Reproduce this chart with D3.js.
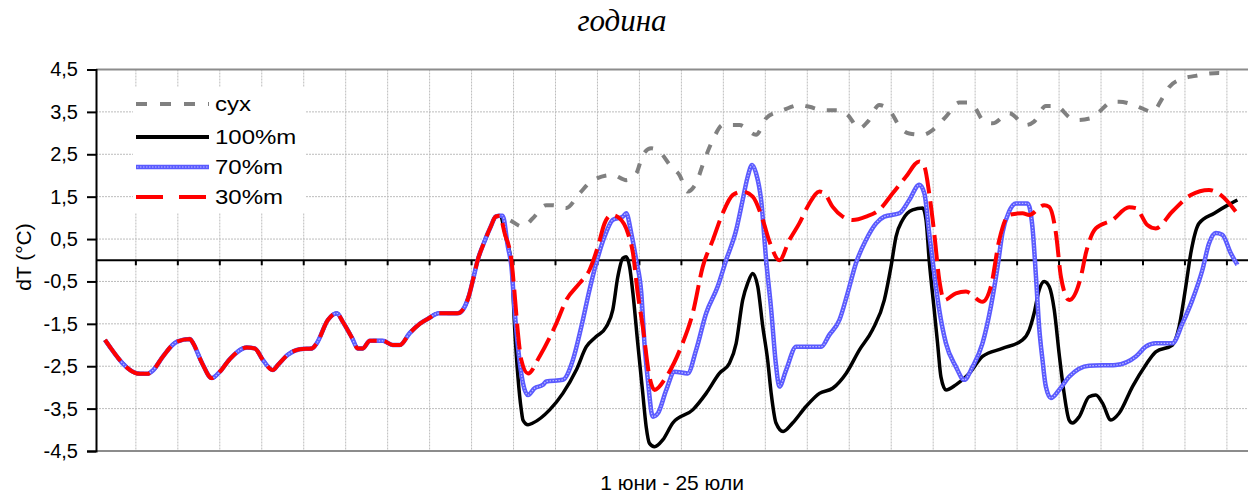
<!DOCTYPE html>
<html>
<head>
<meta charset="utf-8">
<script src="https://cdn.jsdelivr.net/npm/d3@7"></script>
<style>
  body { margin: 0; background: #fff; }
  svg { font-family: "Liberation Sans", Arial, sans-serif; }
</style>
</head>
<body>
<svg id="chart" width="1248" height="495"></svg>
<script>
// days since 1 June, dT in °C
// common start: all four curves lie on top of each other here
var commonPart = [[0.43,-1.88],[2.10,-2.68],[2.43,-2.68],[2.71,-2.60],[3.19,-2.27],[3.86,-1.92],[4.48,-1.86],
  [4.62,-1.95],[5.05,-2.42],[5.52,-2.78],[5.90,-2.63],[6.38,-2.33],[7.19,-2.06],[7.57,-2.08],[7.95,-2.35],
  [8.43,-2.59],[8.67,-2.47],[9.14,-2.23],[9.71,-2.10],[10.29,-2.08],[10.52,-1.96],[11.05,-1.41],[11.48,-1.25],
  [11.76,-1.45],[12.19,-1.82],[12.48,-2.08],[12.71,-2.08],[13.05,-1.90],[13.67,-1.90],[14.14,-2.00],[14.48,-2.00],
  [14.95,-1.72],[15.43,-1.50],[15.86,-1.37],[16.33,-1.25],[17.24,-1.25],[17.48,-1.17],[17.76,-0.86],[18.00,-0.39],
  [18.19,0.00],[18.48,0.40],[18.81,0.79],[19.05,1.03],[19.24,1.05]];

var dryTail = [[19.71,0.95],[20.35,0.79],[20.82,0.99],[21.46,1.30],[21.78,1.30],[22.41,1.23],[23.05,1.58],
  [23.68,1.89],[24.63,2.01],[25.27,1.89],[25.75,2.05],[26.06,2.48],[26.46,2.64],[26.86,2.56],[27.41,2.21],
  [27.81,2.01],[28.20,1.62],[28.60,1.82],[29.00,2.37],[29.40,2.84],[29.87,3.19],[30.67,3.19],[31.46,2.96],
  [31.94,3.35],[32.49,3.50],[32.73,3.54],[33.52,3.66],[34.00,3.62],[34.63,3.54],[35.43,3.54],[35.82,3.43],
  [36.38,3.11],[36.78,3.27],[37.33,3.66],[37.81,3.54],[38.37,3.11],[38.76,2.99],[39.40,2.96],[39.87,3.07],
  [40.51,3.39],[41.14,3.72],[41.62,3.72],[41.86,3.62],[42.33,3.27],[42.73,3.23],[43.52,3.47],[44.32,3.19],
  [44.71,3.27],[45.27,3.64],[45.75,3.64],[46.46,3.35],[46.78,3.31],[47.41,3.35],[47.81,3.50],[48.44,3.74],
  [48.76,3.74],[49.48,3.66],[49.87,3.58],[50.35,3.50],[50.82,3.82],[51.14,4.08],[51.70,4.27],[52.41,4.35],
  [52.81,4.39],[53.52,4.42],[53.76,4.37],[53.90,4.30]];

var m100Tail = [[19.56,0.48],[19.80,-0.07],[19.95,-1.57],[20.11,-2.75],[20.27,-3.53],[20.35,-3.77],[20.59,-3.88],
  [20.82,-3.84],[21.62,-3.53],[22.25,-3.14],[22.89,-2.59],[23.37,-2.04],[23.84,-1.80],[24.32,-1.57],[24.63,-1.17],
  [24.87,-0.39],[25.11,0.05],[25.27,0.08],[25.43,-0.15],[25.59,-0.78],[25.82,-1.96],[26.06,-3.14],[26.22,-3.92],
  [26.38,-4.32],[26.62,-4.40],[27.01,-4.24],[27.49,-3.84],[28.44,-3.53],[29.08,-3.14],[29.71,-2.67],[30.19,-2.43],
  [30.51,-1.96],[30.82,-0.94],[31.06,-0.54],[31.30,-0.31],[31.54,-0.62],[31.78,-1.57],[32.01,-2.35],[32.18,-3.14],
  [32.41,-3.84],[32.75,-4.04],[33.20,-3.84],[33.84,-3.45],[34.48,-3.14],[35.11,-3.02],[35.75,-2.67],[36.38,-2.12],
  [37.01,-1.64],[37.57,-0.94],[37.89,-0.15],[38.13,0.56],[38.44,0.95],[38.92,1.19],[39.40,1.23],[39.56,0.95],
  [39.71,0.00],[39.95,-1.17],[40.11,-1.96],[40.27,-2.75],[40.51,-3.06],[40.98,-2.94],[41.62,-2.67],[42.25,-2.27],
  [43.20,-2.08],[44.16,-1.88],[44.48,-1.64],[44.71,-1.25],[44.95,-0.70],[45.19,-0.50],[45.43,-0.62],[45.67,-1.17],
  [45.90,-2.19],[46.14,-3.14],[46.38,-3.77],[46.54,-3.84],[46.86,-3.69],[47.33,-3.22],[47.65,-3.18],[47.97,-3.37],
  [48.37,-3.77],[48.76,-3.61],[49.40,-2.98],[50.03,-2.47],[50.51,-2.16],[51.30,-2.00],[51.62,-1.57],[51.94,-0.62],
  [52.18,0.17],[52.57,0.87],[53.30,1.11],[53.94,1.30],[54.40,1.42]];

var m70Tail = [[19.38,1.05],[19.63,0.32],[19.80,-0.15],[19.95,-1.17],[20.11,-2.04],[20.35,-2.90],[20.59,-3.18],
  [20.90,-3.02],[21.30,-2.94],[21.46,-2.86],[22.25,-2.82],[22.73,-2.35],[23.13,-1.57],[23.52,-0.70],[23.84,-0.07],
  [24.24,0.56],[24.63,0.95],[25.11,1.03],[25.27,1.11],[25.51,0.64],[25.75,0.00],[25.99,-0.78],[26.14,-1.96],
  [26.30,-2.82],[26.54,-3.69],[26.78,-3.61],[27.18,-3.06],[27.57,-2.63],[28.20,-2.67],[28.60,-2.12],[29.08,-1.25],
  [29.63,-0.62],[30.03,0.00],[30.51,0.71],[30.82,1.42],[31.06,1.97],[31.27,2.25],[31.46,2.05],[31.70,1.42],
  [31.94,0.00],[32.18,-1.17],[32.41,-2.48],[32.57,-2.98],[32.89,-2.59],[33.37,-2.04],[33.84,-2.04],[34.56,-2.04],
  [34.95,-1.76],[35.43,-1.41],[35.82,-0.78],[36.22,-0.07],[36.70,0.48],[37.18,0.87],[37.57,1.03],[38.29,1.11],
  [38.76,1.42],[39.24,1.78],[39.48,1.58],[39.71,0.64],[39.95,-0.31],[40.19,-1.17],[40.51,-1.96],[40.98,-2.51],
  [41.38,-2.82],[41.78,-2.51],[42.25,-1.96],[42.65,-1.09],[42.97,-0.15],[43.20,0.64],[43.52,1.15],[43.84,1.34],
  [44.40,1.34],[44.63,0.79],[44.80,-0.39],[44.95,-1.57],[45.11,-2.35],[45.27,-2.98],[45.51,-3.25],[45.90,-3.06],
  [46.38,-2.75],[47.33,-2.49],[48.60,-2.47],[49.56,-2.27],[50.03,-2.04],[50.51,-1.96],[51.30,-1.96],[51.78,-1.49],
  [52.25,-0.94],[52.73,-0.23],[53.05,0.40],[53.37,0.64],[53.68,0.60],[54.08,0.17],[54.40,-0.11]];

var m30Tail = [[19.48,0.63],[19.80,0.00],[19.95,-0.78],[20.11,-1.72],[20.27,-2.35],[20.59,-2.67],[21.14,-2.27],
  [21.94,-1.49],[22.41,-0.94],[23.05,-0.54],[23.52,-0.23],[23.92,0.32],[24.24,0.87],[24.56,1.07],[24.95,0.99],
  [25.35,0.64],[25.59,0.17],[25.82,-0.78],[26.06,-1.57],[26.38,-2.75],[26.62,-3.06],[27.18,-2.75],[27.89,-2.04],
  [28.44,-1.25],[28.92,-0.15],[29.40,0.48],[29.87,1.11],[30.35,1.54],[30.83,1.62],[31.30,1.50],[31.78,0.95],
  [32.10,0.44],[32.57,0.00],[33.05,0.48],[33.52,0.87],[34.00,1.34],[34.48,1.62],[34.71,1.58],[35.11,1.26],
  [35.59,1.03],[36.06,0.95],[36.70,1.03],[37.33,1.19],[37.97,1.58],[38.60,1.97],[39.24,2.33],[39.48,2.21],
  [39.71,1.58],[39.95,0.64],[40.19,-0.46],[40.43,-0.94],[40.98,-0.78],[41.46,-0.74],[42.25,-0.98],[42.65,-0.62],
  [43.05,0.48],[43.52,1.07],[44.16,1.11],[44.48,1.07],[45.19,1.30],[45.43,1.26],[45.75,0.64],[45.99,-0.39],
  [46.38,-0.94],[46.94,-0.39],[47.18,0.17],[47.65,0.75],[48.44,0.95],[49.24,1.25],[49.56,1.23],[50.11,0.83],
  [50.51,0.75],[51.30,1.15],[52.18,1.54],[53.05,1.66],[53.60,1.54],[54.32,1.15]];

var seriesNames = ["сух", "100%m", "70%m", "30%m"];
var yTicks = [-4.5, -3.5, -2.5, -1.5, -0.5, 0.5, 1.5, 2.5, 3.5, 4.5];
var xGrid = d3.range(1.9, 55, 2);

var svg = d3.select("#chart");
var x = d3.scaleLinear().domain([0, 55]).range([96, 1250]);
var y = d3.scaleLinear().domain([-4.5, 4.5]).range([451, 69.5]);

// grid
var grid = svg.append("g");
grid.selectAll(".vg").data(xGrid).enter().append("line")
    .attr("x1", d => x(d)).attr("x2", d => x(d))
    .attr("y1", y(4.5)).attr("y2", y(-4.5))
    .attr("stroke", "#bcbcbc").attr("stroke-width", 1).attr("stroke-dasharray", "2,1");
grid.selectAll(".hg").data(yTicks.filter(d => Math.abs(d) < 4.5)).enter().append("line")
    .attr("x1", x(0)).attr("x2", 1250)
    .attr("y1", d => y(d)).attr("y2", d => y(d))
    .attr("stroke", "#bcbcbc").attr("stroke-width", 1).attr("stroke-dasharray", "2,1");

// frame top / bottom in gray
svg.append("line").attr("x1", x(0)).attr("x2", 1250).attr("y1", y(4.5)).attr("y2", y(4.5))
    .attr("stroke", "#8c8c8c").attr("stroke-width", 2);
svg.append("line").attr("x1", x(0)).attr("x2", 1250).attr("y1", y(-4.5)).attr("y2", y(-4.5))
    .attr("stroke", "#8c8c8c").attr("stroke-width", 2);

// zero line with tick marks
svg.append("line").attr("x1", x(0)).attr("x2", 1250).attr("y1", y(0)).attr("y2", y(0))
    .attr("stroke", "#000").attr("stroke-width", 2);
svg.selectAll(".xt").data(xGrid).enter().append("line")
    .attr("x1", d => x(d)).attr("x2", d => x(d))
    .attr("y1", y(0)).attr("y2", y(0) + 5)
    .attr("stroke", "#000").attr("stroke-width", 2);

// y axis
var yAxis = svg.append("g").attr("transform", "translate(" + x(0) + ",0)")
    .call(d3.axisLeft(y).tickValues(yTicks).tickSize(9).tickPadding(9)
      .tickFormat(d => d.toFixed(1).replace(".", ",")));
yAxis.select(".domain").attr("stroke", "#000").attr("stroke-width", 2);
yAxis.selectAll(".tick line").attr("stroke", "#000").attr("stroke-width", 2);
yAxis.selectAll(".tick text").attr("font-size", "20px").attr("fill", "#000")
    .attr("font-family", "Liberation Sans, Arial, sans-serif");

// series
var line = d3.line().x(d => x(d[0])).y(d => y(d[1])).curve(d3.curveMonotoneX);
var plot = svg.append("g");

plot.append("path").datum(commonPart.concat(dryTail)).attr("d", line)
    .attr("fill", "none").attr("stroke", "#808080").attr("stroke-width", 4)
    .attr("stroke-dasharray", "10,12");
plot.append("path").datum(commonPart.concat(m100Tail)).attr("d", line)
    .attr("fill", "none").attr("stroke", "#000").attr("stroke-width", 3.5);
plot.append("path").datum(commonPart.concat(m70Tail)).attr("d", line)
    .attr("fill", "none").attr("stroke", "#5a5aff").attr("stroke-width", 4.5);
plot.append("path").datum(commonPart.concat(m70Tail)).attr("d", line)
    .attr("fill", "none").attr("stroke", "#fff").attr("stroke-opacity", 0.6).attr("stroke-width", 1.2)
    .attr("stroke-dasharray", "1.5,1.5");
plot.append("path").datum(commonPart.concat(m30Tail)).attr("d", line)
    .attr("fill", "none").attr("stroke", "#ff0000").attr("stroke-width", 4)
    .attr("stroke-dasharray", "26,8");

// legend
var legend = svg.append("g");
legend.append("rect").attr("x", 133).attr("y", 87).attr("width", 172).attr("height", 126).attr("fill", "#fff");
var rows = [
  {name: seriesNames[0], y: 104, stroke: "#808080", w: 4, dash: "11,13"},
  {name: seriesNames[1], y: 137, stroke: "#000", w: 4, dash: null},
  {name: seriesNames[2], y: 167, stroke: "#5a5aff", w: 4.5, dash: null, tex: true},
  {name: seriesNames[3], y: 197, stroke: "#ff0000", w: 4, dash: "27,16"}
];
rows.forEach(function(r) {
  var l = legend.append("line").attr("x1", 136).attr("x2", 209).attr("y1", r.y).attr("y2", r.y)
      .attr("stroke", r.stroke).attr("stroke-width", r.w);
  if (r.dash) l.attr("stroke-dasharray", r.dash);
  if (r.tex) {
    legend.append("line").attr("x1", 134).attr("x2", 212).attr("y1", r.y).attr("y2", r.y)
      .attr("stroke", "#fff").attr("stroke-opacity", 0.6).attr("stroke-width", 1.2)
      .attr("stroke-dasharray", "1.5,1.5");
  }
  // text in the picture is a bit wider than plain Arial
  legend.append("text").attr("transform", "translate(215," + r.y + ") scale(1.2,1)").attr("dy", "0.36em")
      .attr("font-size", "20px").attr("fill", "#000").text(r.name);
});

// titles
svg.append("text").attr("x", 622).attr("y", 31).attr("text-anchor", "middle")
    .attr("font-family", "Liberation Serif, Times New Roman, serif").attr("font-style", "italic")
    .attr("font-size", "31px").attr("fill", "#000").text("година");
svg.append("text").attr("x", 672).attr("y", 490).attr("text-anchor", "middle")
    .attr("font-size", "21px").attr("fill", "#000").text("1 юни - 25 юли");
svg.append("text").attr("transform", "translate(31,257) rotate(-90)").attr("text-anchor", "middle")
    .attr("font-size", "21px").attr("fill", "#000").text("dT (°C)");
</script>
</body>
</html>
